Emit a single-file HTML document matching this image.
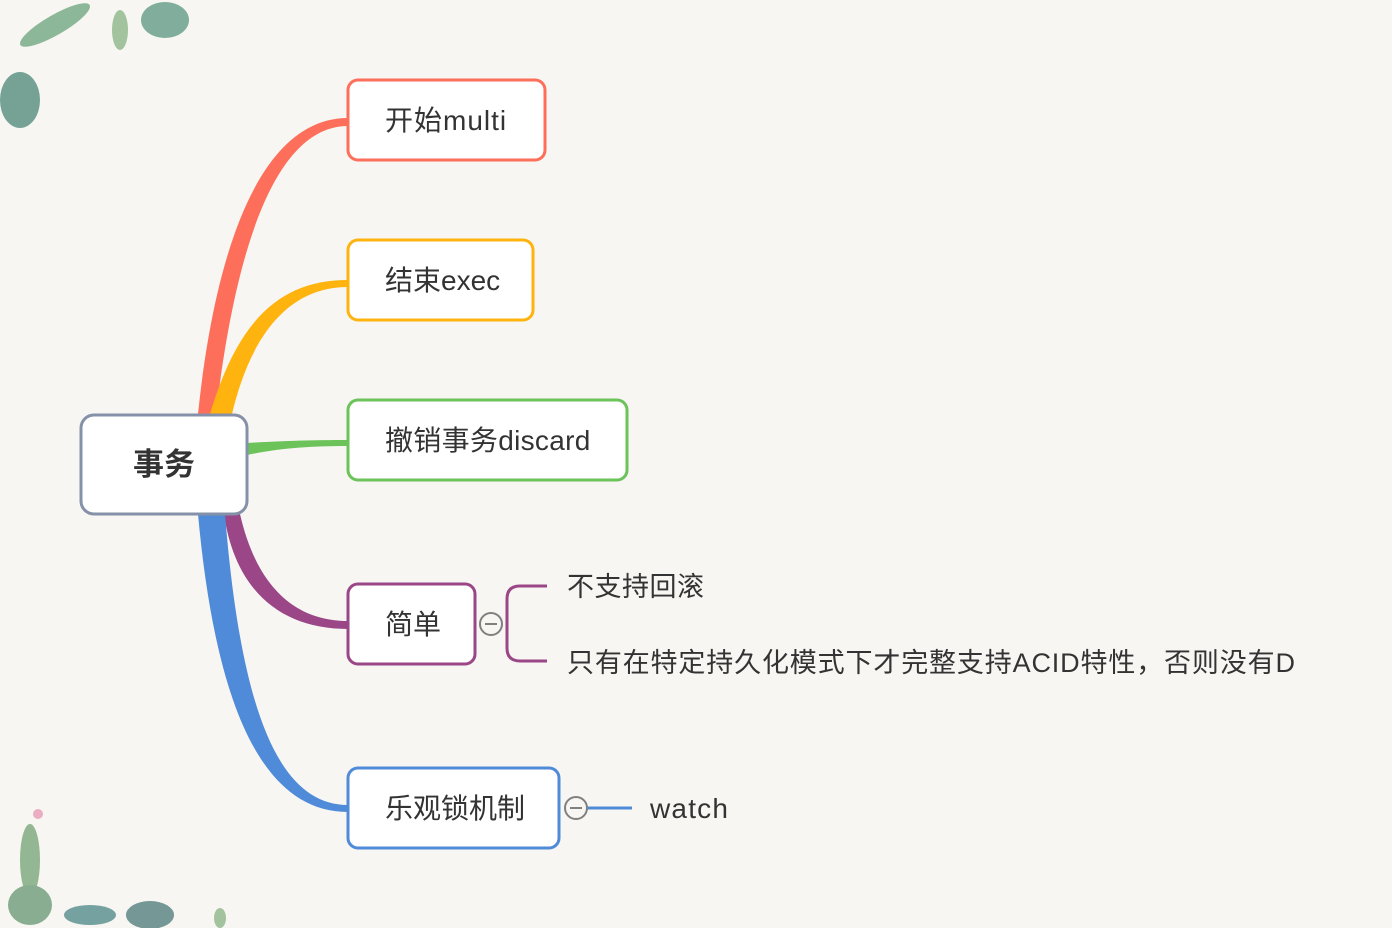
<!DOCTYPE html>
<html><head><meta charset="utf-8"><style>
html,body{margin:0;padding:0;background:#f7f6f2;}
svg{display:block}
text{font-family:"Liberation Sans","Noto Sans CJK SC",sans-serif;fill:#333;}
</style></head><body>
<svg width="1392" height="928" viewBox="0 0 1392 928" xmlns="http://www.w3.org/2000/svg">
<rect width="1392" height="928" fill="#f7f6f2"/>
<!-- decorations -->
<g opacity="0.7">
<ellipse cx="20" cy="100" rx="20" ry="28" fill="#3f7f6f"/>
<ellipse cx="55" cy="25" rx="40" ry="10" fill="#5f9d72" transform="rotate(-30 55 25)"/>
<ellipse cx="165" cy="20" rx="24" ry="18" fill="#4f8f78"/>
<ellipse cx="120" cy="30" rx="8" ry="20" fill="#7fae7a"/>
<ellipse cx="30" cy="860" rx="10" ry="36" fill="#6a9d6a"/>
<ellipse cx="30" cy="905" rx="22" ry="20" fill="#5a8f67"/>
<ellipse cx="90" cy="915" rx="26" ry="10" fill="#3f7f7f"/>
<ellipse cx="150" cy="915" rx="24" ry="14" fill="#3f7070"/>
<ellipse cx="220" cy="918" rx="6" ry="10" fill="#7fae7a"/>
<circle cx="38" cy="814" r="5" fill="#e58fae"/>
</g>
<!-- branches -->
<path d="M198,414 C215,250 260,118 348,118 L348,126 C275,126 235,250 216,414 Z" fill="#fe6f5b"/>
<path d="M210,414 C238,320 280,280 348,280 L348,287 C292,287 252,330 232,414 Z" fill="#ffb30f"/>
<path d="M247,443 C280,441 310,440 348,440 L348,446 C310,446 280,448 247,455 Z" fill="#6cc35a"/>
<path d="M224,514 C235,590 280,629 348,629 L348,621 C290,621 255,580 240,514 Z" fill="#9a4687"/>
<path d="M198,514 C215,700 260,812 348,812 L348,805 C275,805 240,700 225,514 Z" fill="#4f8bd8"/>
<!-- nodes -->
<rect x="81" y="415" width="166" height="99" rx="13" fill="#fff" stroke="#8591a8" stroke-width="3"/>
<text x="164" y="475" font-size="31" font-weight="bold" text-anchor="middle">事务</text>
<rect x="348" y="80" width="197" height="80" rx="10" fill="#fff" stroke="#fe6f5b" stroke-width="3"/>
<text x="385" y="130" font-size="28" letter-spacing="1">开始multi</text>
<rect x="348" y="240" width="185" height="80" rx="10" fill="#fff" stroke="#ffb30f" stroke-width="3"/>
<text x="385" y="290" font-size="28">结束exec</text>
<rect x="348" y="400" width="279" height="80" rx="10" fill="#fff" stroke="#6cc35a" stroke-width="3"/>
<text x="385" y="450" font-size="28" letter-spacing="0.3">撤销事务discard</text>
<rect x="348" y="584" width="127" height="80" rx="10" fill="#fff" stroke="#9a4687" stroke-width="3"/>
<text x="385" y="634" font-size="28">简单</text>
<rect x="348" y="768" width="211" height="80" rx="10" fill="#fff" stroke="#4f8bd8" stroke-width="3"/>
<text x="385" y="818" font-size="28">乐观锁机制</text>
<!-- bracket -->
<path d="M547,586 L520,586 Q507,586 507,599 L507,648 Q507,661 520,661 L547,661" fill="none" stroke="#9a4687" stroke-width="3"/>
<circle cx="491" cy="624" r="11" fill="#f7f6f2" stroke="#808080" stroke-width="2"/>
<line x1="485" y1="624" x2="497" y2="624" stroke="#808080" stroke-width="2"/>
<text x="567" y="596" font-size="27" letter-spacing="0.5">不支持回滚</text>
<text x="567" y="672" font-size="27" letter-spacing="0.85">只有在特定持久化模式下才完整支持ACID特性，否则没有D</text>
<!-- watch -->
<line x1="576" y1="808" x2="632" y2="808" stroke="#4f8bd8" stroke-width="3"/>
<circle cx="576" cy="808" r="11" fill="#f7f6f2" stroke="#808080" stroke-width="2"/>
<line x1="570" y1="808" x2="582" y2="808" stroke="#808080" stroke-width="2"/>
<text x="650" y="818" font-size="28" letter-spacing="1.2">watch</text>
</svg>
</body></html>
